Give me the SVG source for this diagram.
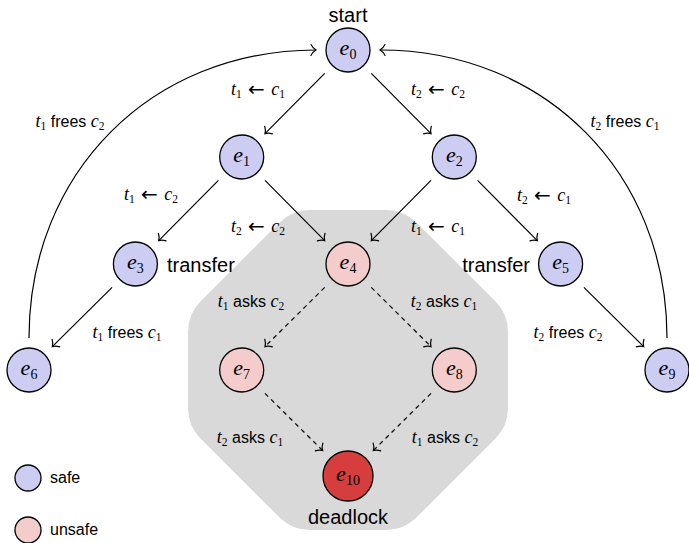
<svg xmlns="http://www.w3.org/2000/svg" width="689" height="543" viewBox="0 0 689 543">
<style>
.bg{fill:#ffffff}
.region{fill:#d9d9d9;stroke:none}
.node{stroke:#000;stroke-width:1.3}
.safe{fill:#cdcdf3}
.unsafe{fill:#f4cccc}
.dead{fill:#d63e3e}
.edge{fill:none;stroke:#000;stroke-width:1.2;marker-end:url(#to)}
.dash{stroke-dasharray:4.5 4}
.nl{font-family:"Liberation Serif",serif;font-style:italic;font-size:22px;fill:#000;text-anchor:middle}
.ns{font-style:normal;font-size:14px}
.lbl{font-family:"Liberation Sans",Arial,sans-serif;font-size:16px;fill:#000;text-anchor:middle}
.m{font-family:"Liberation Serif",serif;font-style:italic;font-size:18px}
.s{font-family:"Liberation Serif",serif;font-size:11.5px}
.ar{font-family:"DejaVu Sans",sans-serif;font-size:20px}
.big{font-family:"Liberation Sans",Arial,sans-serif;font-size:20px;fill:#000}
.leg{font-family:"Liberation Sans",Arial,sans-serif;font-size:16px;fill:#000}
</style>
<defs>
<marker id="to" markerUnits="userSpaceOnUse" orient="auto" refX="0" refY="0" markerWidth="14" markerHeight="14" viewBox="-8 -7 10 14" overflow="visible">
<path d="M-5,-5.4 C-3.6,-2.6 -1.6,-0.8 0,0 C-1.6,0.8 -3.6,2.6 -5,5.4" fill="none" stroke="#000" stroke-width="1.2" stroke-linecap="round"/>
</marker>
</defs>
<rect class="bg" x="0" y="0" width="689" height="543"/>
<path id="unsafe-region" class="region" d="M 310 210 L 386 210 Q 404 210 416.7 222.7 L 495.3 301.3 Q 508 314 508 332 L 508 408 Q 508 426 495.3 438.7 L 416.7 517.3 Q 404 530 386 530 L 310 530 Q 292 530 279.3 517.3 L 200.7 438.7 Q 188 426 188 408 L 188 332 Q 188 314 200.7 301.3 L 279.3 222.7 Q 292 210 310 210 Z"/>
<g id="connectors">
<path class="edge" d="M324.7,73.4 L265,133.6"/>
<path class="edge" d="M371.3,73.4 L431,133.6"/>
<path class="edge" d="M218.4,180.4 L158.7,240.6"/>
<path class="edge" d="M265,180.4 L324.7,240.6"/>
<path class="edge" d="M431,180.4 L371.3,240.6"/>
<path class="edge" d="M477.6,180.4 L537.3,240.6"/>
<path class="edge" d="M112.1,287.4 L52.3,346.6"/>
<path class="edge" d="M583.9,287.4 L643.7,346.6"/>
<path class="edge dash" d="M324.7,287.4 L265,346.6"/>
<path class="edge dash" d="M371.3,287.4 L431,346.6"/>
<path class="edge dash" d="M265,393.4 L322.6,450.5"/>
<path class="edge dash" d="M431,393.4 L373.4,450.5"/>
<path class="edge" d="M29,338 C29,173 151,50 316,50"/>
<path class="edge" d="M667,338 C667,173 545,50 380,50"/>
<text class="lbl" x="258" y="95"><tspan class="m">t</tspan><tspan class="s" dy="3">1</tspan><tspan class="ar" dy="-2.5"> ← </tspan><tspan class="m" dy="-0.5">c</tspan><tspan class="s" dy="3">1</tspan></text>
<text class="lbl" x="438" y="95"><tspan class="m">t</tspan><tspan class="s" dy="3">2</tspan><tspan class="ar" dy="-2.5"> ← </tspan><tspan class="m" dy="-0.5">c</tspan><tspan class="s" dy="3">2</tspan></text>
<text class="lbl" x="151" y="200"><tspan class="m">t</tspan><tspan class="s" dy="3">1</tspan><tspan class="ar" dy="-2.5"> ← </tspan><tspan class="m" dy="-0.5">c</tspan><tspan class="s" dy="3">2</tspan></text>
<text class="lbl" x="258" y="232"><tspan class="m">t</tspan><tspan class="s" dy="3">2</tspan><tspan class="ar" dy="-2.5"> ← </tspan><tspan class="m" dy="-0.5">c</tspan><tspan class="s" dy="3">2</tspan></text>
<text class="lbl" x="438" y="232"><tspan class="m">t</tspan><tspan class="s" dy="3">1</tspan><tspan class="ar" dy="-2.5"> ← </tspan><tspan class="m" dy="-0.5">c</tspan><tspan class="s" dy="3">1</tspan></text>
<text class="lbl" x="544" y="201"><tspan class="m">t</tspan><tspan class="s" dy="3">2</tspan><tspan class="ar" dy="-2.5"> ← </tspan><tspan class="m" dy="-0.5">c</tspan><tspan class="s" dy="3">1</tspan></text>
<text class="lbl" x="127" y="338"><tspan class="m">t</tspan><tspan class="s" dy="3">1</tspan><tspan dy="-3"> frees </tspan><tspan class="m">c</tspan><tspan class="s" dy="3">1</tspan></text>
<text class="lbl" x="568" y="338"><tspan class="m">t</tspan><tspan class="s" dy="3">2</tspan><tspan dy="-3"> frees </tspan><tspan class="m">c</tspan><tspan class="s" dy="3">2</tspan></text>
<text class="lbl" x="70" y="127"><tspan class="m">t</tspan><tspan class="s" dy="3">1</tspan><tspan dy="-3"> frees </tspan><tspan class="m">c</tspan><tspan class="s" dy="3">2</tspan></text>
<text class="lbl" x="625" y="127"><tspan class="m">t</tspan><tspan class="s" dy="3">2</tspan><tspan dy="-3"> frees </tspan><tspan class="m">c</tspan><tspan class="s" dy="3">1</tspan></text>
<text class="lbl" x="251" y="307"><tspan class="m">t</tspan><tspan class="s" dy="3">1</tspan><tspan dy="-3"> asks </tspan><tspan class="m">c</tspan><tspan class="s" dy="3">2</tspan></text>
<text class="lbl" x="444" y="307"><tspan class="m">t</tspan><tspan class="s" dy="3">2</tspan><tspan dy="-3"> asks </tspan><tspan class="m">c</tspan><tspan class="s" dy="3">1</tspan></text>
<text class="lbl" x="250" y="443"><tspan class="m">t</tspan><tspan class="s" dy="3">2</tspan><tspan dy="-3"> asks </tspan><tspan class="m">c</tspan><tspan class="s" dy="3">1</tspan></text>
<text class="lbl" x="445" y="443"><tspan class="m">t</tspan><tspan class="s" dy="3">1</tspan><tspan dy="-3"> asks </tspan><tspan class="m">c</tspan><tspan class="s" dy="3">2</tspan></text>
</g>
<g id="e0"><circle class="node safe" cx="348" cy="50" r="22"/><text class="nl" x="348" y="55">e<tspan class="ns" dy="4">0</tspan></text><text class="big" x="348" y="22" text-anchor="middle">start</text></g>
<g id="e1"><circle class="node safe" cx="241.7" cy="157" r="22"/><text class="nl" x="241.7" y="162">e<tspan class="ns" dy="4">1</tspan></text></g>
<g id="e2"><circle class="node safe" cx="454.3" cy="157" r="22"/><text class="nl" x="454.3" y="162">e<tspan class="ns" dy="4">2</tspan></text></g>
<g id="e3"><circle class="node safe" cx="135.4" cy="264" r="22"/><text class="nl" x="135.4" y="269">e<tspan class="ns" dy="4">3</tspan></text><text class="big" x="167" y="272">transfer</text></g>
<g id="e4"><circle class="node unsafe" cx="348" cy="264" r="22"/><text class="nl" x="348" y="269">e<tspan class="ns" dy="4">4</tspan></text></g>
<g id="e5"><circle class="node safe" cx="560.6" cy="264" r="22"/><text class="nl" x="560.6" y="269">e<tspan class="ns" dy="4">5</tspan></text><text class="big" x="530" y="272" text-anchor="end">transfer</text></g>
<g id="e6"><circle class="node safe" cx="29" cy="370" r="22"/><text class="nl" x="29" y="375">e<tspan class="ns" dy="4">6</tspan></text></g>
<g id="e7"><circle class="node unsafe" cx="241.7" cy="370" r="22"/><text class="nl" x="241.7" y="375">e<tspan class="ns" dy="4">7</tspan></text></g>
<g id="e8"><circle class="node unsafe" cx="454.3" cy="370" r="22"/><text class="nl" x="454.3" y="375">e<tspan class="ns" dy="4">8</tspan></text></g>
<g id="e9"><circle class="node safe" cx="667" cy="370" r="22"/><text class="nl" x="667" y="375">e<tspan class="ns" dy="4">9</tspan></text></g>
<g id="e10"><circle class="node dead" cx="348" cy="476" r="25"/><text class="nl" x="348" y="481">e<tspan class="ns" dy="4">10</tspan></text><text class="big" x="348" y="524" text-anchor="middle">deadlock</text></g>
<g id="legend-safe"><circle class="node safe" cx="28" cy="478" r="13"/><text class="leg" x="50" y="483">safe</text></g>
<g id="legend-unsafe"><circle class="node unsafe" cx="28" cy="530" r="13"/><text class="leg" x="50" y="535">unsafe</text></g>
</svg>
